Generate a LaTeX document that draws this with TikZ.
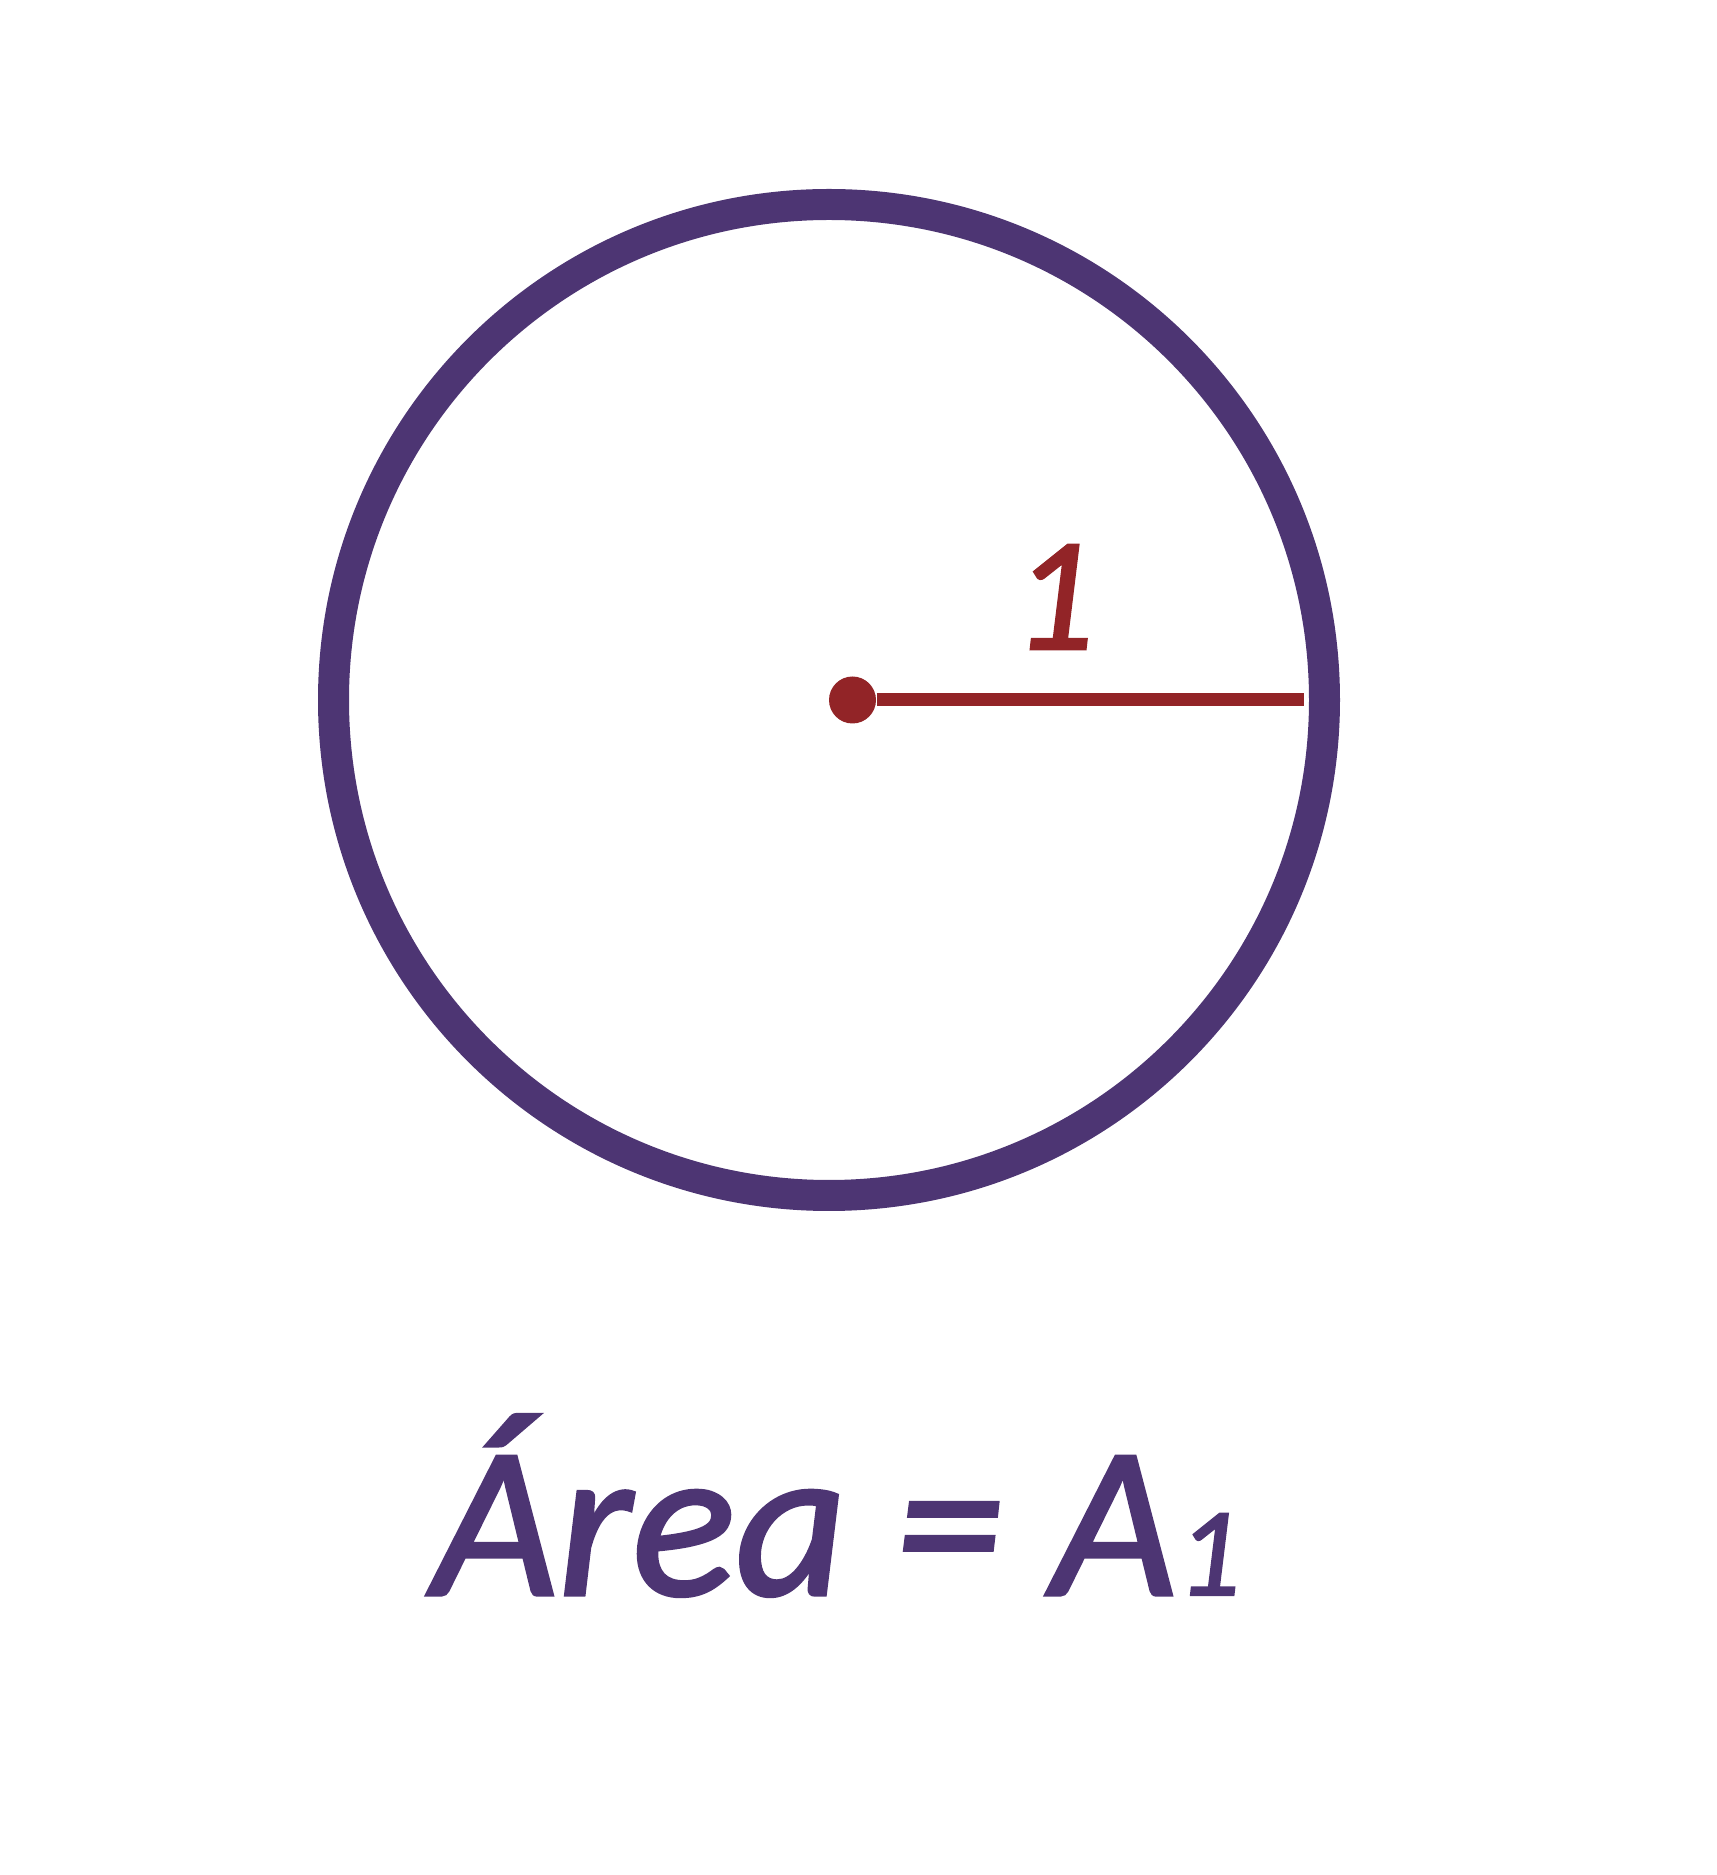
\documentclass[tikz,border=0pt]{standalone}
\usepackage{fontspec}
\setmainfont{Carlito}[ItalicFeatures={FakeBold=1.6}]
\usepackage{xcolor}
\definecolor{ringpurple}{HTML}{4D3573}
\definecolor{radiusred}{HTML}{922427}
\usepackage{tikz}
\usetikzlibrary{positioning,calc}

\begin{document}
\begin{tikzpicture}[
  ring/.style={draw=ringpurple, line width=0.31cm},
  centredot/.style={
    circle, fill=radiusred, draw=none,
    minimum size=0.47cm, inner sep=0pt,
  },
  radiusline/.style={draw=radiusred, line width=0.13cm},
  radiuslabel/.style={
    text=radiusred, anchor=base, inner sep=0pt,
    font=\fontsize{46}{46}\selectfont\itshape,
  },
  arealabel/.style={
    text=ringpurple, anchor=base, inner sep=0pt,
    font=\fontsize{61.5}{61.5}\selectfont\itshape,
  },
]

% === CANVAS ===
\useasboundingbox (0,0) rectangle (17.17,18.75);

% === CIRCLE ===
\coordinate (o) at (8.29, 11.75);
\draw[ring] (o) circle (4.955);

% === RADIUS ===
\node[centredot] (centre) at (8.525, 11.75) {};
\coordinate (rim) at (13.04, 11.75);
\draw[radiusline] (centre) -- (rim);
\node[radiuslabel] (one) at (10.54, 12.26) {1};

% === FORMULA ===
\node[arealabel] (area) at (8.37, 2.80)
  {Área = A{\fontsize{36}{36}\selectfont 1}};

\end{tikzpicture}
\end{document}
